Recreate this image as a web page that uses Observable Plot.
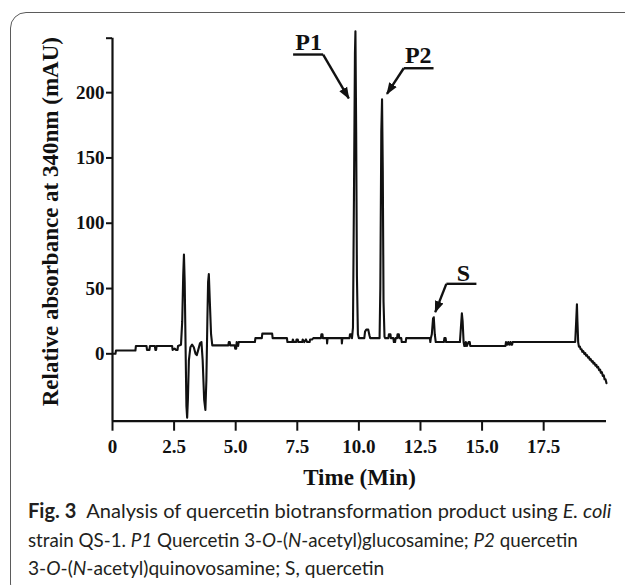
<!DOCTYPE html>
<html><head><meta charset="utf-8">
<script src="https://cdn.jsdelivr.net/npm/d3@7"></script>
<script src="https://cdn.jsdelivr.net/npm/@observablehq/plot@0.6"></script>
<style>
html,body{margin:0;padding:0;background:#fff;}
body{width:625px;height:585px;position:relative;overflow:hidden;}
#box{position:absolute;left:10px;top:12px;width:700px;height:588px;border:1.5px solid #5b5b5b;border-radius:16px;box-sizing:border-box;}
#chart{position:absolute;left:0;top:0;}
#cap{position:absolute;left:0;top:0;}
</style></head>
<body>
<div id="box"></div>
<div id="chart"></div>
<svg id="cap" width="625" height="585"></svg>
<script>
// Chromatogram trace: retention time (min) and absorbance (mAU)
const time = [
 0.00,0.12,0.14,0.93,0.95,1.38,1.40,1.50,1.52,1.72,1.74,1.77,1.79,2.42,2.44,2.52,2.58,2.64,2.66,2.78,
 2.83,2.87,2.90,2.93,2.97,3.00,3.03,3.06,3.10,3.16,3.23,3.30,3.37,3.42,3.48,3.55,3.61,3.66,3.72,3.77,
 3.81,3.85,3.88,3.91,3.95,4.00,4.05,4.70,4.72,4.76,4.78,4.96,4.98,5.02,5.04,5.10,5.12,5.78,5.80,6.06,
 6.08,6.48,6.50,7.08,7.10,7.30,7.32,7.36,7.45,7.47,7.52,7.54,7.70,7.72,7.78,7.85,7.90,8.00,8.02,8.10,
 8.15,8.46,8.48,8.52,8.54,8.70,8.71,8.73,9.30,9.31,9.33,9.62,9.64,9.70,9.72,9.76,9.80,9.84,9.86,9.89,
 9.92,9.96,10.00,10.22,10.25,10.30,10.38,10.43,10.46,10.84,10.87,10.91,10.94,10.97,11.00,11.04,11.07,
 11.20,11.22,11.28,11.30,11.40,11.42,11.47,11.49,11.55,11.57,11.62,11.64,11.72,11.74,11.90,11.92,
 12.88,12.90,12.92,12.96,13.01,13.04,13.08,13.12,13.45,13.47,13.52,13.54,14.10,14.14,14.18,14.21,14.25,
 14.28,14.32,14.34,14.38,14.45,14.50,14.52,15.95,15.97,16.02,16.06,16.10,16.15,16.18,16.22,16.24,
 18.78,18.82,18.85,18.87,18.90,18.93,18.97,19.00,19.04,19.07,19.11,19.15,19.19,19.22,19.26,19.30,19.34,
 19.37,19.41,19.45,19.49,19.52,19.56,19.60,19.64,19.67,19.71,19.75,19.79,19.82,19.86,19.90,19.94,
 19.97,20.01,20.05
];
const absorbance = [
 0,0,2.5,2.5,6,6,3,3,6,6,3,3,6,6,3,4,3,3,6,7,
 25,60,76,55,0,-40,-49,-35,-5,5,7,5,0,-1,3,8,9,-5,-35,-43,
 -20,25,55,61,40,15,6.5,6.5,9,9,6.5,6.5,4,4,9,6,9,9,12,12,
 15.5,15.5,12,12,9,9,11,9,9,11,11,9,9,11,9,11,9,9,11,11,
 12,12,15,15,12,12,8,12,12,8,12,12,15,15,12,20,120,230,247,170,
 60,15,12,12,17,18.5,18.5,14,12,12,50,170,195,140,40,13,12,
 12,15,15,12,12,9,9,12,12,15,15,12,12,9,9,12,
 12,9,12,15,27,28,15,9,9,12,12,9,9,20,31,25,9,
 6,6,9,6,9,9,6,6,9,7,9,7,9,7,7,9,
 9,25,38,25,9,5.5,5.5,3.5,3.5,1.5,2,0,0.5,-1.5,-1,-3,-2.5,
 -4.5,-4,-6,-5.5,-7.5,-7,-9,-8.5,-10.5,-10,-12.5,-12,-14.5,-14,-17,-16.5,
 -19.5,-19.5,-22.5
];

// Axis ticks
const xTicks = [0, 2.5, 5.0, 7.5, 10.0, 12.5, 15.0, 17.5];
const xTickLabels = ["0", "2.5", "5.0", "7.5", "10.0", "12.5", "15.0", "17.5"];
const yTicks = [0, 50, 100, 150, 200, 241.7];
const yTickLabels = ["0", "50", "100", "150", "200", ""];
const xDomain = [0, 20.05];
const yDomain = [-51.6, 241.7];

// Peak annotations
const peakNames = ["P1", "P2", "S"];
const nameT = [7.96, 12.41, 14.24];
const nameV = [232.8, 222.5, 56.1];
const underlineT1 = [7.33, 11.82, 13.55];
const underlineT2 = [8.55, 13.03, 14.77];
const underlineV = [229.2, 218.7, 53.6];
const arrowFromT = [8.55, 11.82, 13.55];
const arrowFromV = [229.2, 218.7, 53.6];
const arrowToT = [9.59, 11.14, 13.10];
const arrowToV = [195.6, 199.1, 31.9];

const trace = time.map((t, i) => ({t, v: absorbance[i]}));
const ann = peakNames.map((n, i) => ({
  n, tx: nameT[i], vx: nameV[i], u1: underlineT1[i], u2: underlineT2[i], uv: underlineV[i],
  a1: arrowFromT[i], av1: arrowFromV[i], a2: arrowToT[i], av2: arrowToV[i]
}));

function filledArrow(color) {
  return d3.create("svg:marker")
    .attr("viewBox", "-11 -5 12 10")
    .attr("markerWidth", 12).attr("markerHeight", 10)
    .attr("markerUnits", "userSpaceOnUse")
    .attr("orient", "auto")
    .attr("fill", "#111").attr("stroke", "none")
    .call(m => m.append("path").attr("d", "M-11,-4.5L1,0L-11,4.5Z"))
    .node();
}

const serif = "'Liberation Serif', 'Times New Roman', serif";
const W = 625, H = 495;
const chart = Plot.plot({
  width: W, height: H,
  marginLeft: 112, marginRight: 19, marginTop: 37.7, marginBottom: H - 420.7,
  style: {background: "transparent", fontFamily: serif, fontWeight: "bold", fontSize: "19px", color: "#111", overflow: "visible"},
  x: {domain: xDomain, nice: false},
  y: {domain: yDomain, nice: false},
  marks: [
    Plot.axisX({ticks: xTicks, tickFormat: (d) => xTickLabels[xTicks.indexOf(d)], tickSize: 10, tickPadding: 8, strokeWidth: 2, label: null, fontSize: 19, fill: "#111"}),
    Plot.axisY({ticks: yTicks, tickFormat: (d) => yTickLabels[yTicks.indexOf(d)], tickSize: 6, tickPadding: 2, strokeWidth: 2, label: null, fontSize: 19, fill: "#111"}),
    Plot.ruleX([xDomain[0]], {y1: yDomain[0], y2: yDomain[1], stroke: "#111", strokeWidth: 2.2}),
    Plot.ruleY([yDomain[0]], {x1: xDomain[0], x2: xDomain[1], stroke: "#111", strokeWidth: 2.2}),
    Plot.line(trace, {x: "t", y: "v", stroke: "#111", strokeWidth: 2.1, strokeLinejoin: "round"}),
    Plot.link(ann, {x1: "u1", x2: "u2", y1: "uv", y2: "uv", stroke: "#111", strokeWidth: 2.4}),
    Plot.link(ann, {x1: "a1", y1: "av1", x2: "a2", y2: "av2", stroke: "#111", strokeWidth: 2.4, markerEnd: filledArrow}),
    Plot.text(ann, {x: "tx", y: "vx", text: "n", fontSize: 24, fontWeight: "bold", fontFamily: serif, lineAnchor: "bottom", fill: "#111"}),
    Plot.text(["Time (Min)"], {frameAnchor: "bottom", textAnchor: "middle", dy: 63.3, text: d => d, lineAnchor: "bottom", fontSize: 23, fontWeight: "bold", fontFamily: serif, fill: "#111"}),
    Plot.text(["Relative absorbance at 340nm (mAU)"], {frameAnchor: "left", textAnchor: "middle", dx: -54.2, dy: -8, rotate: -90, text: d => d, lineAnchor: "bottom", fontSize: 23, fontWeight: "bold", fontFamily: serif, fill: "#111"})
  ]
});
document.getElementById("chart").appendChild(chart);

// Caption
const capLines = [
  [["Fig. 3", "b"], ["\u2002Analysis of quercetin biotransformation product using ", ""], ["E. coli", "i"]],
  [["strain QS-1. ", ""], ["P1", "i"], [" Quercetin 3-", ""], ["O", "i"], ["-(", ""], ["N", "i"], ["-acetyl)glucosamine; ", ""], ["P2", "i"], [" quercetin", ""]],
  [["3-", ""], ["O", "i"], ["-(", ""], ["N", "i"], ["-acetyl)quinovosamine; S, quercetin", ""]]
];
const capBase = [518.3, 546.8, 575.2];
const capWidth = [583.7, 550, 356.6];
const baseSize = 19.5;
const cap = d3.select("#cap");
const texts = capLines.map((segs, i) => {
  const t = cap.append("text").attr("x", 28).attr("y", capBase[i])
    .attr("font-family", "Lato, 'Open Sans', sans-serif").attr("font-size", baseSize).attr("fill", "#231f20");
  segs.forEach(([s, f]) => {
    const ts = t.append("tspan").text(s);
    if (f === "b") ts.attr("font-weight", "bold");
    if (f === "i") ts.attr("font-style", "italic");
  });
  return t;
});
// size each caption line so its width matches the reference
texts.forEach((t, i) => {
  const w = t.node().getComputedTextLength();
  if (w > 0) t.attr("font-size", (baseSize * capWidth[i] / w).toFixed(2));
});
</script>
</body></html>
